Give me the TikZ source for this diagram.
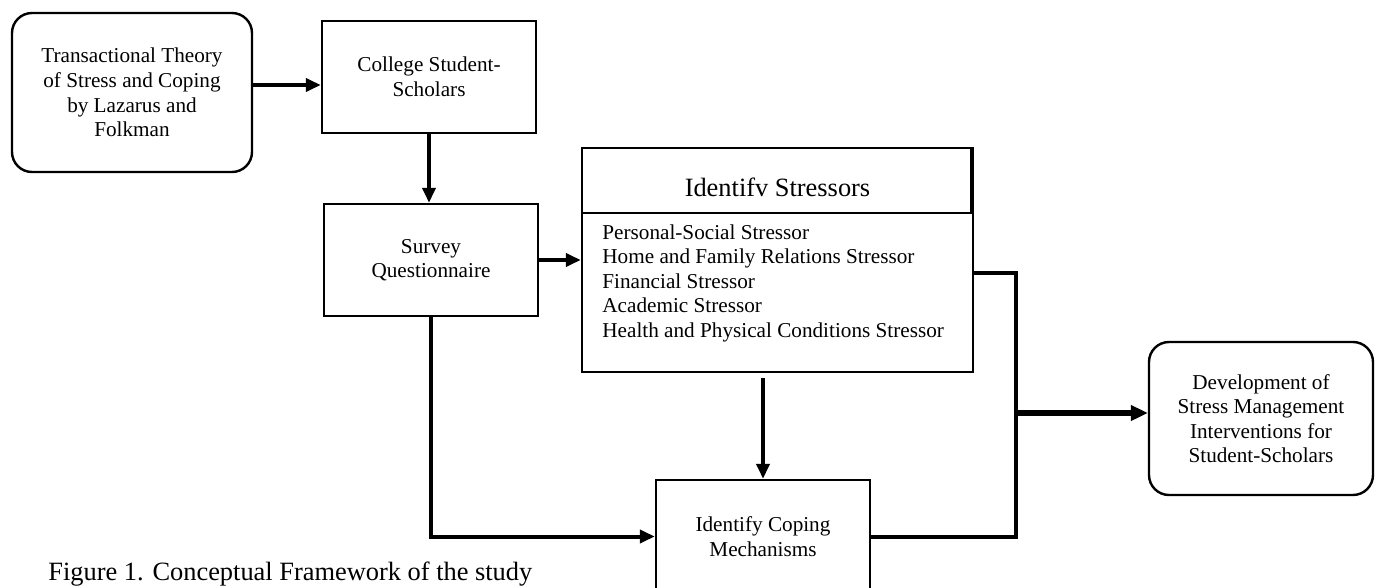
\documentclass[tikz,border=0pt]{standalone}
\usepackage{fontspec}
\setmainfont{Liberation Serif}
\usetikzlibrary{arrows.meta}

\begin{document}
\begin{tikzpicture}[x=0.5pt, y=-0.5pt,
  blk/.style={draw, line width=1.2pt, inner sep=0pt, align=center, font=\txtsize},
  rblk/.style={blk, rounded corners=10pt},
  arr/.style={line width=2pt, -{Triangle[length=7.5pt,width=6.5pt]}},
  bigarr/.style={line width=2.8pt, -{Triangle[length=8.5pt,width=7.5pt]}},
  lnk/.style={line width=2pt}]

\newcommand\txtsize{\fontsize{10.6}{12.25}\selectfont}
\newcommand\bigsize{\fontsize{13.2}{15}\selectfont}

\useasboundingbox (0,0) rectangle (1375,588); %% page
\clip (0,0) rectangle (1375,588);

\node[rblk, minimum width=120pt, minimum height=79.5pt] (trans) at (132,92.5)
{Transactional Theory\\of Stress and Coping\\by Lazarus and\\Folkman};
\node[blk, minimum width=107pt, minimum height=56pt] (college) at (429,77)
{College Student-\\Scholars};
\node[blk, minimum width=107pt, minimum height=56pt] (survey) at (431,260)
{Survey\\Questionnaire};

%% stressors box with its header
\node[blk, minimum width=195.5pt, minimum height=112pt] (stress) at (777.5,260) {};
\node[blk, minimum width=195.5pt, minimum height=32.5pt] (head) at (777.5,180.5) {};
\draw[line width=0.6pt] ([xshift=-1.6pt]head.north east) -- ([xshift=-1.6pt]head.south east);
\node[inner sep=0pt, font=\bigsize] (headtxt) at (777.5,187.5) {Identifv Stressors};
\node[anchor=north west, inner sep=0pt, align=left, font=\txtsize] (list) at (602,224)
{Personal-Social Stressor\\Home and Family Relations Stressor\\Financial Stressor\\
Academic Stressor\\Health and Physical Conditions Stressor};

\node[blk, minimum width=107pt, minimum height=56.5pt] (coping) at (763,536.5)
{Identify Coping\\Mechanisms};
\node[rblk, minimum width=112pt, minimum height=76.5pt] (dev) at (1261,418.5)
{Development of\\Stress Management\\Interventions for\\Student-Scholars};

\node[anchor=base west, inner sep=0pt, font=\bigsize] (cap) at (48,580)
{Figure 1. Conceptual Framework of the study};

%% connectors
\draw[arr] (trans.east |- 0,85) -- (college.west |- 0,85);
\draw[arr] (college.south) -- (college.south |- survey.north);
\draw[arr] (survey.east) -- (survey.east -| stress.west);
\draw[arr] (survey.south) |- (coping.west);
\draw[arr, shorten <=2.5pt] (stress.south -| coping.north) -- (coping.north);

\coordinate (junc) at (1016,413);
\draw[lnk] (stress.east |- 0,273) -| (junc) |- (coping.east);
\draw[bigarr] (junc) -- (junc -| dev.west);

\end{tikzpicture}
\end{document}
